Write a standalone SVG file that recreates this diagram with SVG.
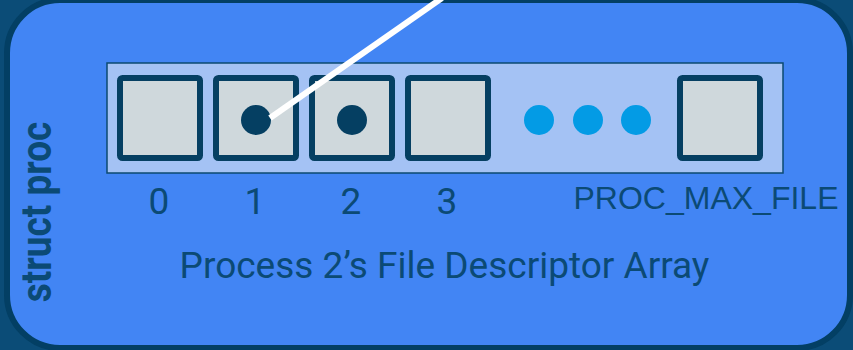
<svg xmlns="http://www.w3.org/2000/svg" width="853" height="350" viewBox="0 0 853 350">
  <style>
    .cell { fill: #cfd8dc; stroke: #053f62; stroke-width: 6; }
    .idx { font-family: Roboto, "Liberation Sans", sans-serif; font-size: 37px; fill: #0b4a75; text-anchor: middle; }
    .more { fill: #039be5; }
    .ptr { fill: #053f62; }
  </style>
  <!-- page backdrop -->
  <rect x="0" y="0" width="853" height="350" fill="#0b4c77"/>

  <!-- struct proc container -->
  <g id="struct-proc">
    <rect x="7" y="0" width="843" height="348" rx="53" ry="53" fill="#4285f4" stroke="#033f64" stroke-width="6"/>
    <text transform="translate(51,212) rotate(-90) scale(0.88,1)" text-anchor="middle" font-family="Roboto, 'Liberation Sans', sans-serif" font-weight="bold" font-size="42" fill="#0b4a75">struct proc</text>
  </g>

  <!-- file descriptor array -->
  <g id="fd-array">
    <rect x="107" y="63" width="676" height="110" fill="#a4c2f4" stroke="#0b4a70" stroke-width="1.5"/>
  </g>

  <g id="fd-0">
    <rect class="cell" x="120" y="78" width="80" height="80" rx="2.5"/>
    <text class="idx" x="159" y="214">0</text>
  </g>
  <g id="fd-1">
    <rect class="cell" x="216" y="78" width="80" height="80" rx="2.5"/>
    <circle class="ptr" cx="256" cy="120" r="15"/>
    <text class="idx" x="255" y="214">1</text>
  </g>
  <g id="fd-2">
    <rect class="cell" x="312" y="78" width="80" height="80" rx="2.5"/>
    <circle class="ptr" cx="352" cy="120" r="15"/>
    <text class="idx" x="351" y="214">2</text>
  </g>
  <g id="fd-3">
    <rect class="cell" x="408" y="78" width="80" height="80" rx="2.5"/>
    <text class="idx" x="447" y="214">3</text>
  </g>
  <g id="ellipsis">
    <circle class="more" cx="539" cy="120" r="15"/>
    <circle class="more" cx="588" cy="120" r="15"/>
    <circle class="more" cx="636" cy="120" r="15"/>
  </g>
  <g id="fd-max">
    <rect class="cell" x="680" y="78" width="80" height="80" rx="2.5"/>
    <text x="706" y="209" text-anchor="middle" font-family="'Liberation Sans', Arial, sans-serif" font-size="32" fill="#0b4a75">PROC_MAX_FILE</text>
  </g>

  <g id="caption">
    <text x="444.5" y="278" text-anchor="middle" font-family="Roboto, 'Liberation Sans', sans-serif" font-size="37" fill="#0b4a75">Process 2’s File Descriptor Array</text>
  </g>

  <!-- pointer out of fd 1 -->
  <g id="connectors">
    <line x1="270" y1="118" x2="442" y2="-2" stroke="#ffffff" stroke-width="6"/>
  </g>
</svg>
